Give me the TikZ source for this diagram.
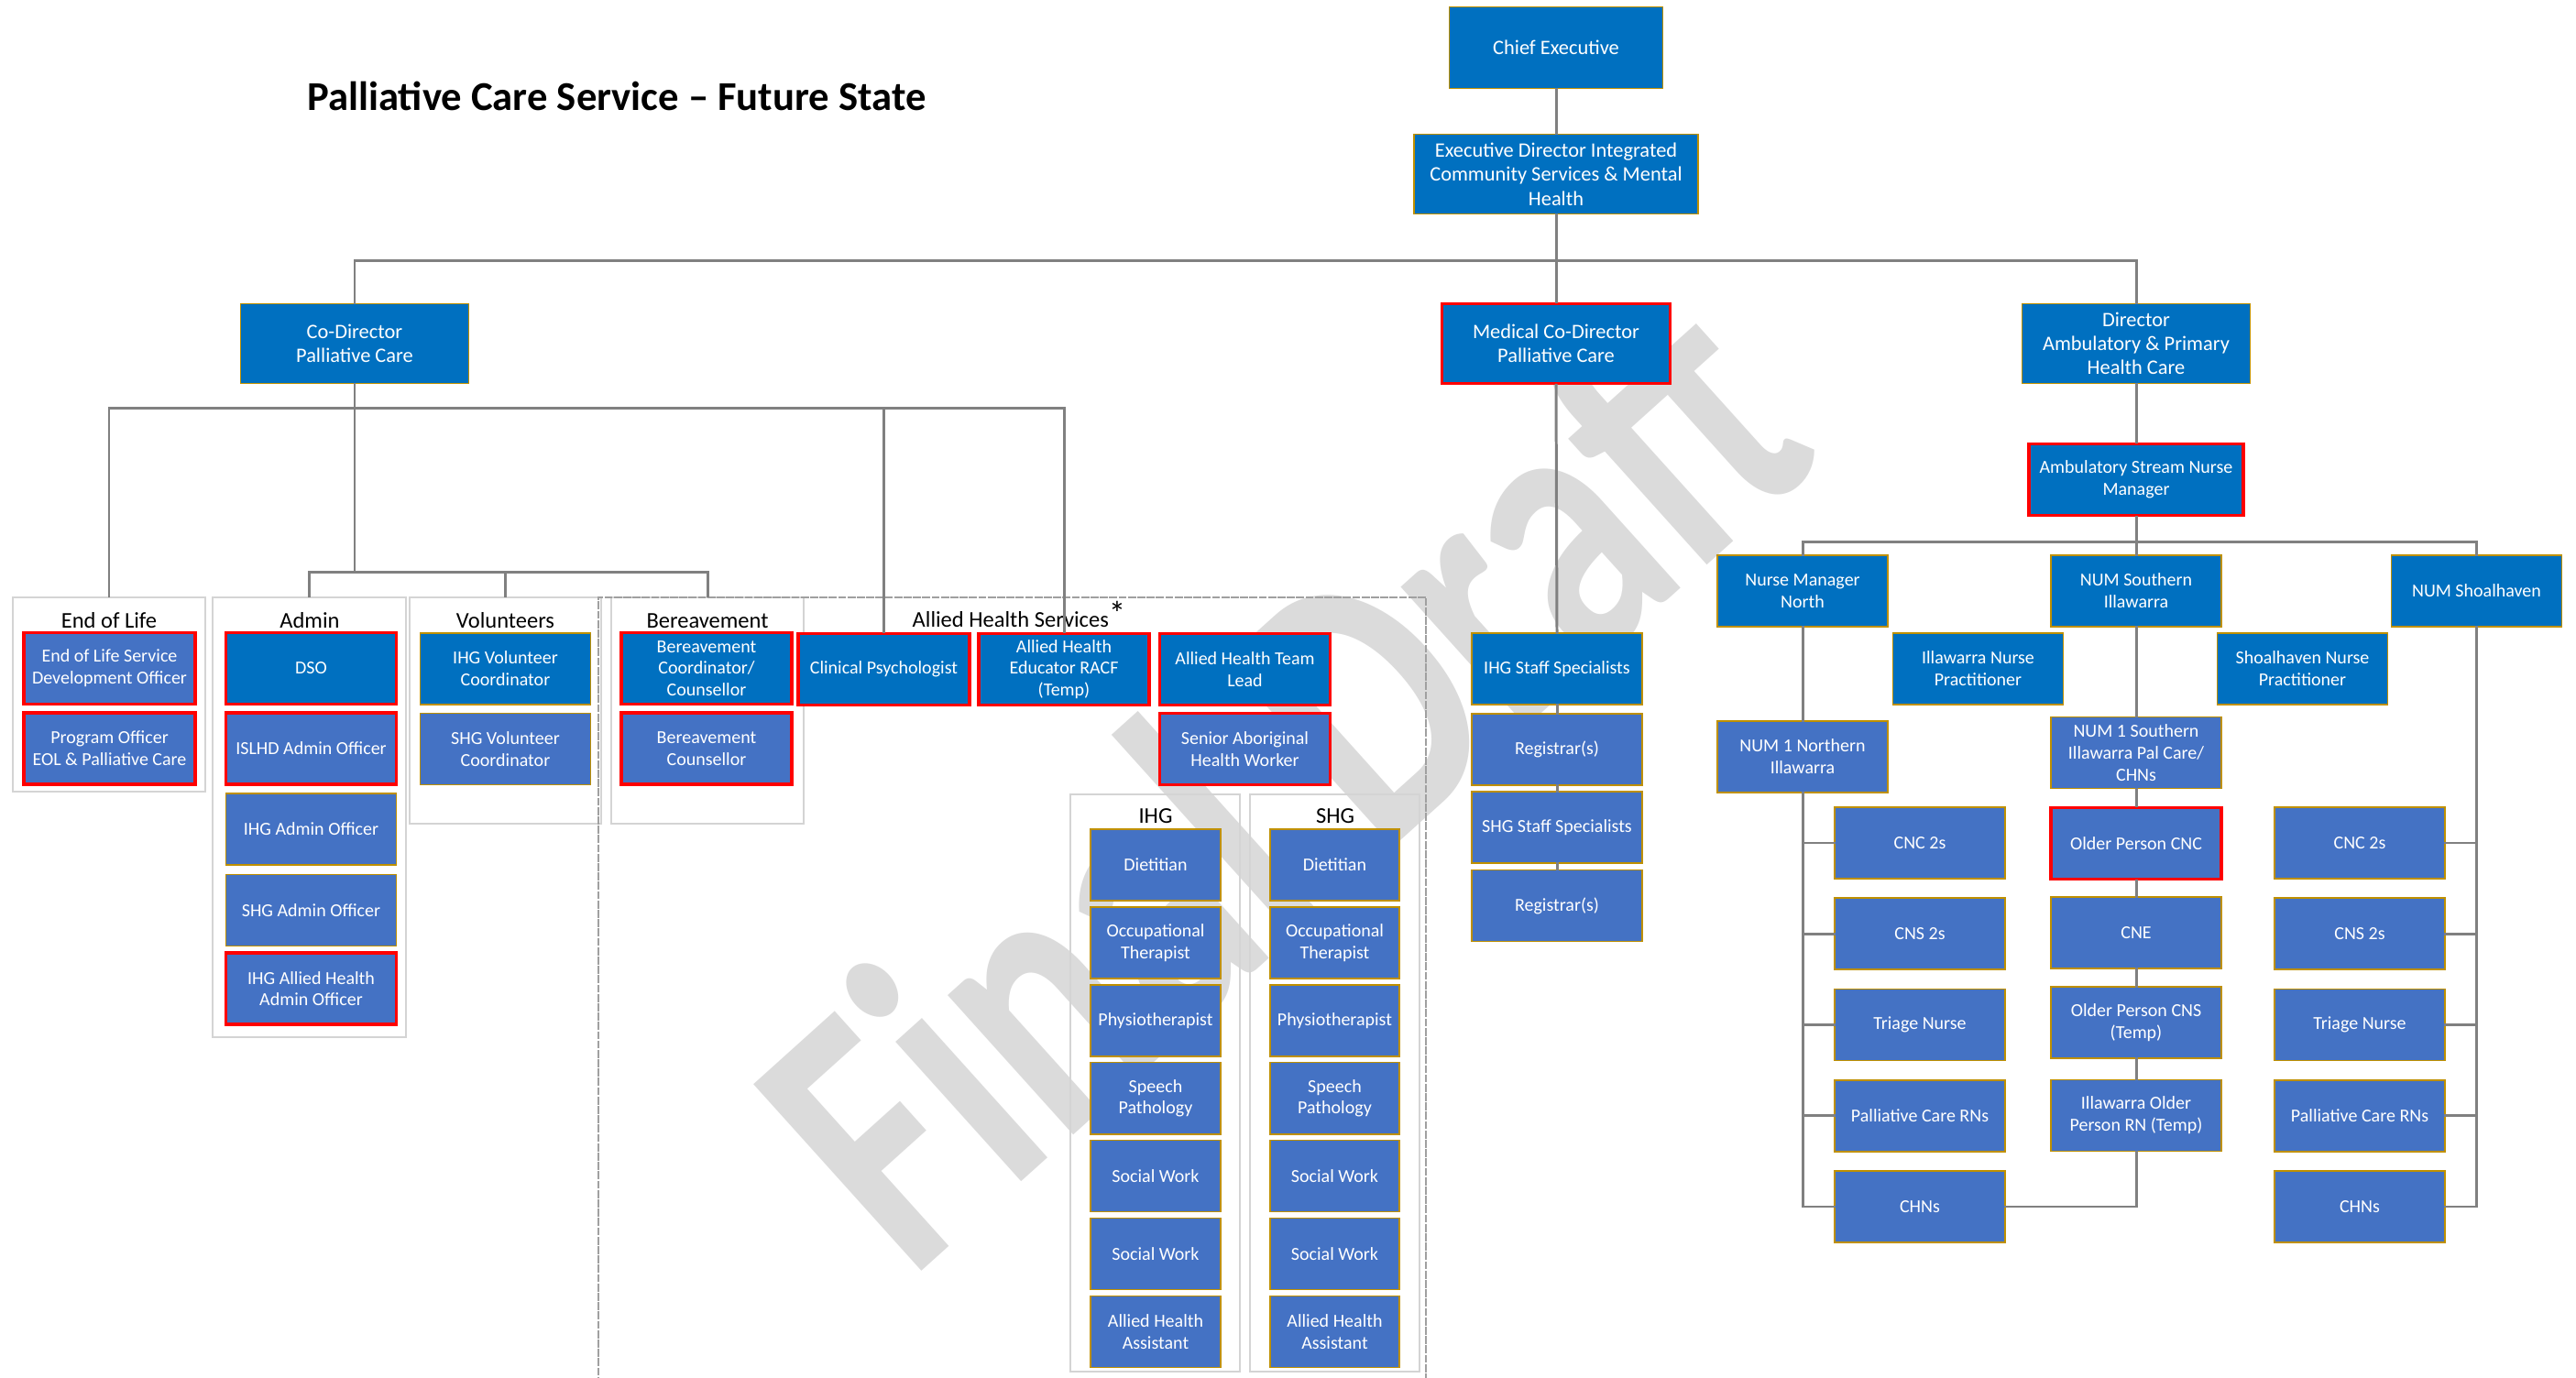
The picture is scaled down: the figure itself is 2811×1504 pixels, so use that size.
\documentclass[tikz,border=0pt]{standalone}
\usepackage{fontspec}
\setmainfont{Carlito}
\usetikzlibrary{positioning}

\definecolor{postblue}{HTML}{0070C0}
\definecolor{postlight}{HTML}{4472C4}
\definecolor{postgold}{HTML}{BF9000}
\definecolor{postred}{HTML}{FF0000}
\definecolor{linkgray}{HTML}{808080}
\definecolor{teamgray}{HTML}{D4D4D4}
\definecolor{dashgray}{HTML}{A0A0A0}
\definecolor{draftgray}{HTML}{DBDBDB}

\newcommand{\toptext}{\fontsize{6.37}{7.5}\selectfont}
\newcommand{\posttext}{\fontsize{5.69}{6.75}\selectfont}
\newcommand{\teamtext}{\fontsize{6.97}{8.4}\selectfont}

\tikzset{
  post/.style={draw=postgold, line width=0.45pt, fill=postblue, text=white,
    align=center, inner sep=0pt, font=\posttext,
    minimum width=1.86cm, minimum height=0.78cm},
  sub/.style={post, fill=postlight},
  top/.style={post, font=\toptext, minimum width=2.49cm, minimum height=0.87cm},
  flag/.style={draw=postred, line width=1pt},
  link/.style={draw=linkgray, line width=0.85pt},
  team/.style={draw=teamgray, line width=0.6pt, inner sep=0pt},
  teamlabel/.style={font=\teamtext, inner sep=0pt, anchor=base},
}

\begin{document}
\begin{tikzpicture}[x=0.01cm, y=-0.01cm, line cap=rect]

  \path[use as bounding box, fill=white] (0,0) rectangle (2811,1504);

  % watermark
  \node[rotate=42, text=draftgray, inner sep=0pt,
    font=\fontsize{89}{89}\selectfont\bfseries] (draft) at (1395,840)
    {\scalebox{1}[1.35]{Final Draft}};

  % title
  \node[anchor=base, inner sep=0pt, font=\fontsize{12.7}{15}\selectfont\bfseries]
    (title) at (673,121) {Palliative Care Service -- Future State};

  %========================
  % executive levels
  %========================
  \node[top, minimum width=2.33cm, minimum height=0.89cm] (ce) at (1698,52) {Chief Executive};
  \node[top, minimum width=3.10cm] (ed) at (1698,190)
    {Executive Director Integrated\\Community Services \& Mental\\Health};
  \node[top] (cod) at (387,375) {Co-Director\\Palliative Care};
  \node[top, flag] (mcd) at (1698,375) {Medical Co-Director\\Palliative Care};
  \node[top] (dap) at (2331,375) {Director\\Ambulatory \& Primary\\Health Care};

  \coordinate (topbus) at (1698,285);
  \draw[link] (ce.south) -- (ed.north);
  \draw[link] (ed.south) -- (mcd.north);
  \draw[link] (cod.north) |- (topbus) -| (dap.north);

  %========================
  % palliative care teams
  %========================
  \node[team, minimum width=2.10cm, minimum height=2.12cm] (eolteam) at (119,758) {};
  \node[team, minimum width=2.11cm, minimum height=4.80cm] (admteam) at (337.5,892) {};
  \node[team, minimum width=2.09cm, minimum height=2.47cm] (volteam) at (551.5,775.5) {};
  \node[team, minimum width=2.10cm, minimum height=2.47cm] (berteam) at (772,775.5) {};
  \node[draw=dashgray, line width=0.5pt, dash pattern=on 2pt off 0.9pt,
    minimum width=9.03cm, minimum height=9.20cm, inner sep=0pt] (ahsteam) at (1104.5,1112) {};
  \node[team, minimum width=1.85cm, minimum height=6.30cm] (ihgteam) at (1260.5,1182) {};
  \node[team, minimum width=1.85cm, minimum height=6.30cm] (shgteam) at (1456.5,1182) {};

  \node[teamlabel] (eollabel) at (119,686) {End of Life};
  \node[teamlabel] (admlabel) at (338,686) {Admin};
  \node[teamlabel] (vollabel) at (551.5,686) {Volunteers};
  \node[teamlabel] (berlabel) at (772,686) {Bereavement};
  \node[teamlabel] (ahslabel) at (1112,685)
    {Allied Health Services\raisebox{0.12em}{\fontsize{10.5}{10.5}\selectfont *}};
  \node[teamlabel] (ihglabel) at (1261,899) {IHG};
  \node[teamlabel] (shglabel) at (1457,899) {SHG};

  % end of life
  \node[sub, flag, minimum width=1.87cm] (eolsdo) at (119.5,729.5) {End of Life Service\\Development Officer};
  \node[sub, flag, minimum width=1.87cm] (eolpo) at (119.5,817) {Program Officer\\EOL \& Palliative Care};

  % admin
  \node[post, flag] (dso) at (339.5,729.5) {DSO};
  \node[sub, flag] (islhd) at (339.5,817) {ISLHD Admin Officer};
  \node[sub] (ihgadmin) at (339.5,905) {IHG Admin Officer};
  \node[sub] (shgadmin) at (339.5,993.5) {SHG Admin Officer};
  \node[sub, flag] (ihgahadmin) at (339.5,1079) {IHG Allied Health\\Admin Officer};

  % volunteers
  \node[post] (ihgvol) at (551.5,730) {IHG Volunteer\\Coordinator};
  \node[sub] (shgvol) at (551.5,817.5) {SHG Volunteer\\Coordinator};

  % bereavement
  \node[post, flag] (bercoord) at (771,729.5) {Bereavement\\Coordinator/\\Counsellor};
  \node[sub, flag] (bercouns) at (771,817) {Bereavement\\Counsellor};

  % allied health
  \node[post, flag, minimum width=1.87cm] (clinpsych) at (964.5,730.5) {Clinical Psychologist};
  \node[post, flag] (aheracf) at (1161,730.5) {Allied Health\\Educator RACF\\(Temp)};
  \node[post, flag] (ahtl) at (1358.5,730.5) {Allied Health Team\\Lead};
  \node[sub, flag] (sahw) at (1358.5,817.5) {Senior Aboriginal\\Health Worker};

  \foreach \role [count=\i] in {Dietitian, {Occupational\\Therapist}, Physiotherapist,
      {Speech\\Pathology}, Social Work, Social Work, {Allied Health\\Assistant}} {
    \node[sub, minimum width=1.42cm] (ihg\i) at (1261,{944+84.9*(\i-1)}) {\role};
    \node[sub, minimum width=1.41cm] (shg\i) at (1456.5,{944+84.9*(\i-1)}) {\role};
  }

  \coordinate (codbus) at (387,446);
  \coordinate (admbus) at (387,625);
  \draw[link] (cod.south) -- (admbus);
  \draw[link] (eolteam.north) |- (codbus) -| (aheracf.north);
  \draw[link] (clinpsych.north) -- (clinpsych.north |- codbus);
  \draw[link] (admteam.north) |- (admbus) -| (berteam.north);
  \draw[link] (volteam.north) -- (volteam.north |- admbus);

  %========================
  % medical staff
  %========================
  \node[post] (iss) at (1699,730) {IHG Staff Specialists};
  \node[sub] (regone) at (1699,818) {Registrar(s)};
  \node[sub] (sss) at (1699,903) {SHG Staff Specialists};
  \node[sub] (regtwo) at (1699,988.5) {Registrar(s)};

  \draw[link] (mcd.south) -- (iss.north);
  \foreach \a/\b in {iss/regone, regone/sss, sss/regtwo}
    \draw[link] (\a.south) -- (\b.north);

  %========================
  % nursing
  %========================
  \node[post, flag, minimum width=2.34cm] (asnm) at (2331,523.5) {Ambulatory Stream Nurse\\Manager};
  \node[post] (nmn) at (1967,645) {Nurse Manager\\North};
  \node[post] (nums) at (2331,645) {NUM Southern\\Illawarra};
  \node[post] (numsh) at (2702.5,645) {NUM Shoalhaven};
  \node[post] (inp) at (2158.5,730) {Illawarra Nurse\\Practitioner};
  \node[post] (snp) at (2512.5,730) {Shoalhaven Nurse\\Practitioner};
  \node[sub] (numnorth) at (1967,826) {NUM 1 Northern\\Illawarra};
  \node[sub] (numsouth) at (2331,821.5) {NUM 1 Southern\\Illawarra Pal Care/\\CHNs};
  \node[sub, flag] (opcnc) at (2331,920.5) {Older Person CNC};
  \node[sub] (cne) at (2331,1018) {CNE};
  \node[sub] (opcns) at (2331,1116) {Older Person CNS\\(Temp)};
  \node[sub] (iorn) at (2331,1217.5) {Illawarra Older\\Person RN (Temp)};

  \foreach \role/\tag [count=\r] in {CNC 2s/cnc, CNS 2s/cns, Triage Nurse/tri,
      Palliative Care RNs/pcr, CHNs/chn} {
    \node[sub] (n\tag) at (2095,{920+99.25*(\r-1)}) {\role};
    \node[sub] (s\tag) at (2575,{920+99.25*(\r-1)}) {\role};
  }

  \coordinate (nursebus) at (2331,592);
  \coordinate (northend) at (1967,1317);
  \coordinate (shoalend) at (2702.5,1317);
  \draw[link] (dap.south) -- (asnm.north);
  \draw[link] (asnm.south) -- (nums.north);
  \draw[link] (nmn.north) |- (nursebus) -| (numsh.north);

  \draw[link] (nmn.south) -- (numnorth.north);
  \draw[link] (numnorth.south) -- (northend);
  \draw[link] (numsh.south) -- (shoalend);
  \foreach \tag in {cnc, cns, tri, pcr, chn} {
    \draw[link] (n\tag.west) -- (n\tag.west -| northend);
    \draw[link] (s\tag.east) -- (s\tag.east -| shoalend);
  }

  \foreach \a/\b in {nums/numsouth, numsouth/opcnc, opcnc/cne, cne/opcns, opcns/iorn}
    \draw[link] (\a.south) -- (\b.north);
  \draw[link] (iorn.south) |- (nchn.east);

\end{tikzpicture}
\end{document}
